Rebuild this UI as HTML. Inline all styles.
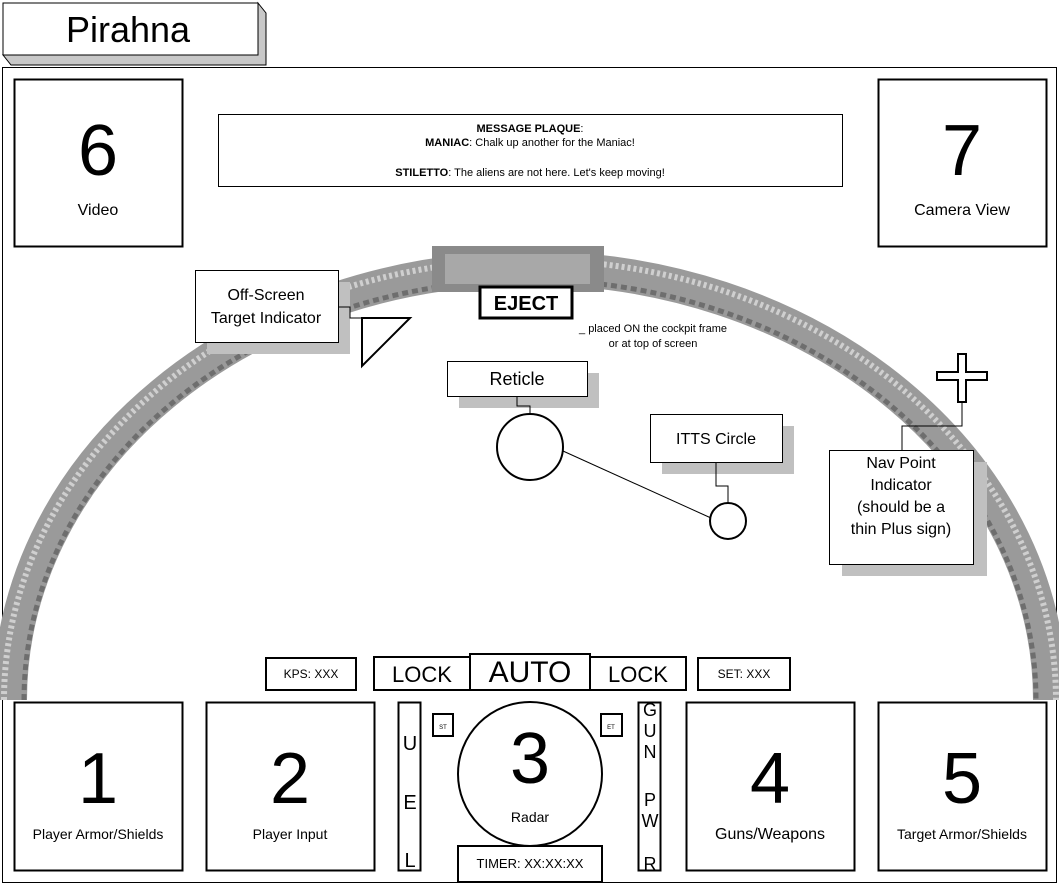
<!DOCTYPE html>
<html><head><style>
html,body{margin:0;padding:0;background:#fff;}
svg{display:block;font-family:"Liberation Sans",Arial,sans-serif;}
</style></head><body>
<svg width="1059" height="889" viewBox="0 0 1059 889" xmlns="http://www.w3.org/2000/svg">
<rect width="1059" height="889" fill="#fff"/>
<!-- title -->
<polygon points="3,55 11,65 266,65 266,13 258,3 258,55" fill="#c8c8c8" stroke="#000"/>
<rect x="3" y="3" width="255" height="52" fill="#fff" stroke="#000"/>
<text x="128" y="42" font-size="36" text-anchor="middle">Pirahna</text>
<!-- frame -->
<rect x="2.5" y="67.5" width="1054" height="815" fill="#fff" stroke="#000"/>
<!-- arch -->
<path d="M 10 700 A 520 432 0 0 1 1050 700" fill="none" stroke="#9a9a9a" stroke-width="34"/>
<path d="M 4 700 A 526 440 0 0 1 1056 700" fill="none" stroke="#cfcfcf" stroke-width="6" stroke-dasharray="3 3"/>
<path d="M 24 700 A 506 420 0 0 1 1036 700" fill="none" stroke="#6e6e6e" stroke-width="5" stroke-dasharray="6 4"/>
<rect x="432" y="246" width="172" height="46" fill="#8a8a8a"/>
<rect x="445" y="254" width="145" height="30" fill="#a8a8a8"/>
<!-- top boxes -->
<rect x="14.5" y="79.5" width="168" height="167" fill="#fff" stroke="#000" stroke-width="2"/>
<text x="98" y="175" font-size="72" text-anchor="middle">6</text>
<text x="98" y="215" font-size="16" text-anchor="middle">Video</text>
<rect x="878.5" y="79.5" width="168" height="167" fill="#fff" stroke="#000" stroke-width="2"/>
<text x="962" y="175" font-size="72" text-anchor="middle">7</text>
<text x="962" y="215" font-size="16" text-anchor="middle">Camera View</text>
<rect x="218.5" y="114.5" width="624" height="72" fill="#fff" stroke="#000"/>
<text x="530" y="132" font-size="11" text-anchor="middle"><tspan font-weight="bold">MESSAGE PLAQUE</tspan>:</text>
<text x="530" y="146" font-size="11" text-anchor="middle"><tspan font-weight="bold">MANIAC</tspan>:  Chalk up another for the Maniac!</text>
<text x="530" y="176" font-size="11" text-anchor="middle"><tspan font-weight="bold">STILETTO</tspan>: The aliens are not here.  Let's keep moving!</text>
<!-- off-screen -->
<rect x="207" y="282" width="143" height="72" fill="#c0c0c0"/>
<rect x="195.5" y="270.5" width="143" height="72" fill="#fff" stroke="#000"/>
<text x="266" y="300" font-size="16" text-anchor="middle">Off-Screen</text>
<text x="266" y="323" font-size="16" text-anchor="middle">Target Indicator</text>
<polyline points="338,307 350,307 350,318 363,318" fill="none" stroke="#000"/>
<polygon points="362,318 410,318 362,366" fill="#fff" stroke="#000" stroke-width="2"/>
<!-- eject -->
<rect x="480" y="287" width="92" height="31" fill="#fff" stroke="#000" stroke-width="3"/>
<text x="526" y="310" font-size="20" font-weight="bold" text-anchor="middle">EJECT</text>
<text x="653" y="332" font-size="11" text-anchor="middle">_ placed ON the cockpit frame</text>
<text x="653" y="347" font-size="11" text-anchor="middle">or at top of screen</text>
<!-- reticle -->
<rect x="459" y="373" width="140" height="35" fill="#c0c0c0"/>
<rect x="447.5" y="361.5" width="140" height="35" fill="#fff" stroke="#000"/>
<text x="517" y="385" font-size="18" text-anchor="middle">Reticle</text>
<polyline points="517,396 517,406 530,406 530,414" fill="none" stroke="#000"/>
<circle cx="530" cy="447" r="33" fill="#fff" stroke="#000" stroke-width="2"/>
<line x1="563" y1="451" x2="711" y2="518" stroke="#000"/>
<!-- itts -->
<rect x="662" y="426" width="132" height="48" fill="#c0c0c0"/>
<rect x="650.5" y="414.5" width="132" height="48" fill="#fff" stroke="#000"/>
<text x="716" y="444" font-size="16" text-anchor="middle">ITTS Circle</text>
<polyline points="716,462 716,486 728,486 728,503" fill="none" stroke="#000"/>
<circle cx="728" cy="521" r="18" fill="#fff" stroke="#000" stroke-width="2"/>
<!-- nav -->
<polygon points="958,354 966,354 966,372 987,372 987,380 966,380 966,402 958,402 958,380 937,380 937,372 958,372" fill="#fff" stroke="#000" stroke-width="2"/>
<polyline points="962,402 962,426 902,426 902,450" fill="none" stroke="#000"/>
<rect x="842" y="462" width="145" height="114" fill="#c0c0c0"/>
<rect x="829.5" y="450.5" width="144" height="114" fill="#fff" stroke="#000"/>
<text x="901" y="468" font-size="16" text-anchor="middle">Nav Point</text>
<text x="901" y="490" font-size="16" text-anchor="middle">Indicator</text>
<text x="901" y="512" font-size="16" text-anchor="middle">(should be a</text>
<text x="901" y="534" font-size="16" text-anchor="middle">thin Plus sign)</text>
<!-- bottom bar -->
<rect x="266" y="658" width="90" height="32" fill="#fff" stroke="#000" stroke-width="2"/>
<text x="311" y="678" font-size="12" text-anchor="middle">KPS: XXX</text>
<rect x="698" y="658" width="92" height="32" fill="#fff" stroke="#000" stroke-width="2"/>
<text x="744" y="678" font-size="12" text-anchor="middle">SET: XXX</text>
<rect x="374" y="657" width="96" height="33" fill="#fff" stroke="#000" stroke-width="2"/>
<text x="422" y="682" font-size="22" text-anchor="middle">LOCK</text>
<rect x="590" y="657" width="96" height="33" fill="#fff" stroke="#000" stroke-width="2"/>
<text x="638" y="682" font-size="22" text-anchor="middle">LOCK</text>
<rect x="470" y="654" width="120" height="36" fill="#fff" stroke="#000" stroke-width="2"/>
<text x="530" y="682" font-size="30" text-anchor="middle">AUTO</text>
<!-- bottom boxes -->
<rect x="14.5" y="702.5" width="168" height="168" fill="#fff" stroke="#000" stroke-width="2"/>
<text x="98" y="803" font-size="72" text-anchor="middle">1</text>
<text x="98" y="839" font-size="14" text-anchor="middle">Player Armor/Shields</text>
<rect x="206.5" y="702.5" width="168" height="168" fill="#fff" stroke="#000" stroke-width="2"/>
<text x="290" y="803" font-size="72" text-anchor="middle">2</text>
<text x="290" y="839" font-size="14" text-anchor="middle">Player Input</text>
<rect x="686.5" y="702.5" width="168" height="168" fill="#fff" stroke="#000" stroke-width="2"/>
<text x="770" y="803" font-size="72" text-anchor="middle">4</text>
<text x="770" y="839" font-size="16" text-anchor="middle">Guns/Weapons</text>
<rect x="878.5" y="702.5" width="168" height="168" fill="#fff" stroke="#000" stroke-width="2"/>
<text x="962" y="803" font-size="72" text-anchor="middle">5</text>
<text x="962" y="839" font-size="14" text-anchor="middle">Target Armor/Shields</text>
<!-- fuel / gun -->
<rect x="398.5" y="702.5" width="22" height="168" fill="#fff" stroke="#000" stroke-width="2"/>
<text x="410" y="750" font-size="20" text-anchor="middle">U</text>
<text x="410" y="809" font-size="20" text-anchor="middle">E</text>
<text x="410" y="867" font-size="20" text-anchor="middle">L</text>
<rect x="638.5" y="702.5" width="22" height="168" fill="#fff" stroke="#000" stroke-width="2"/>
<text x="650" y="716" font-size="18" text-anchor="middle">G</text>
<text x="650" y="737" font-size="18" text-anchor="middle">U</text>
<text x="650" y="758" font-size="18" text-anchor="middle">N</text>
<text x="650" y="806" font-size="18" text-anchor="middle">P</text>
<text x="650" y="827" font-size="18" text-anchor="middle">W</text>
<text x="650" y="870" font-size="18" text-anchor="middle">R</text>
<rect x="433" y="714" width="20" height="22" fill="#fff" stroke="#000" stroke-width="2"/>
<text x="443" y="729" font-size="6" text-anchor="middle">ST</text>
<rect x="601" y="714" width="21" height="22" fill="#fff" stroke="#000" stroke-width="2"/>
<text x="611" y="729" font-size="6" text-anchor="middle">ET</text>
<circle cx="530" cy="774" r="72" fill="#fff" stroke="#000" stroke-width="2"/>
<text x="530" y="783" font-size="72" text-anchor="middle">3</text>
<text x="530" y="822" font-size="14" text-anchor="middle">Radar</text>
<rect x="458" y="846" width="144" height="36" fill="#fff" stroke="#000" stroke-width="2"/>
<text x="530" y="868" font-size="13" text-anchor="middle">TIMER:  XX:XX:XX</text>
</svg>
</body></html>
